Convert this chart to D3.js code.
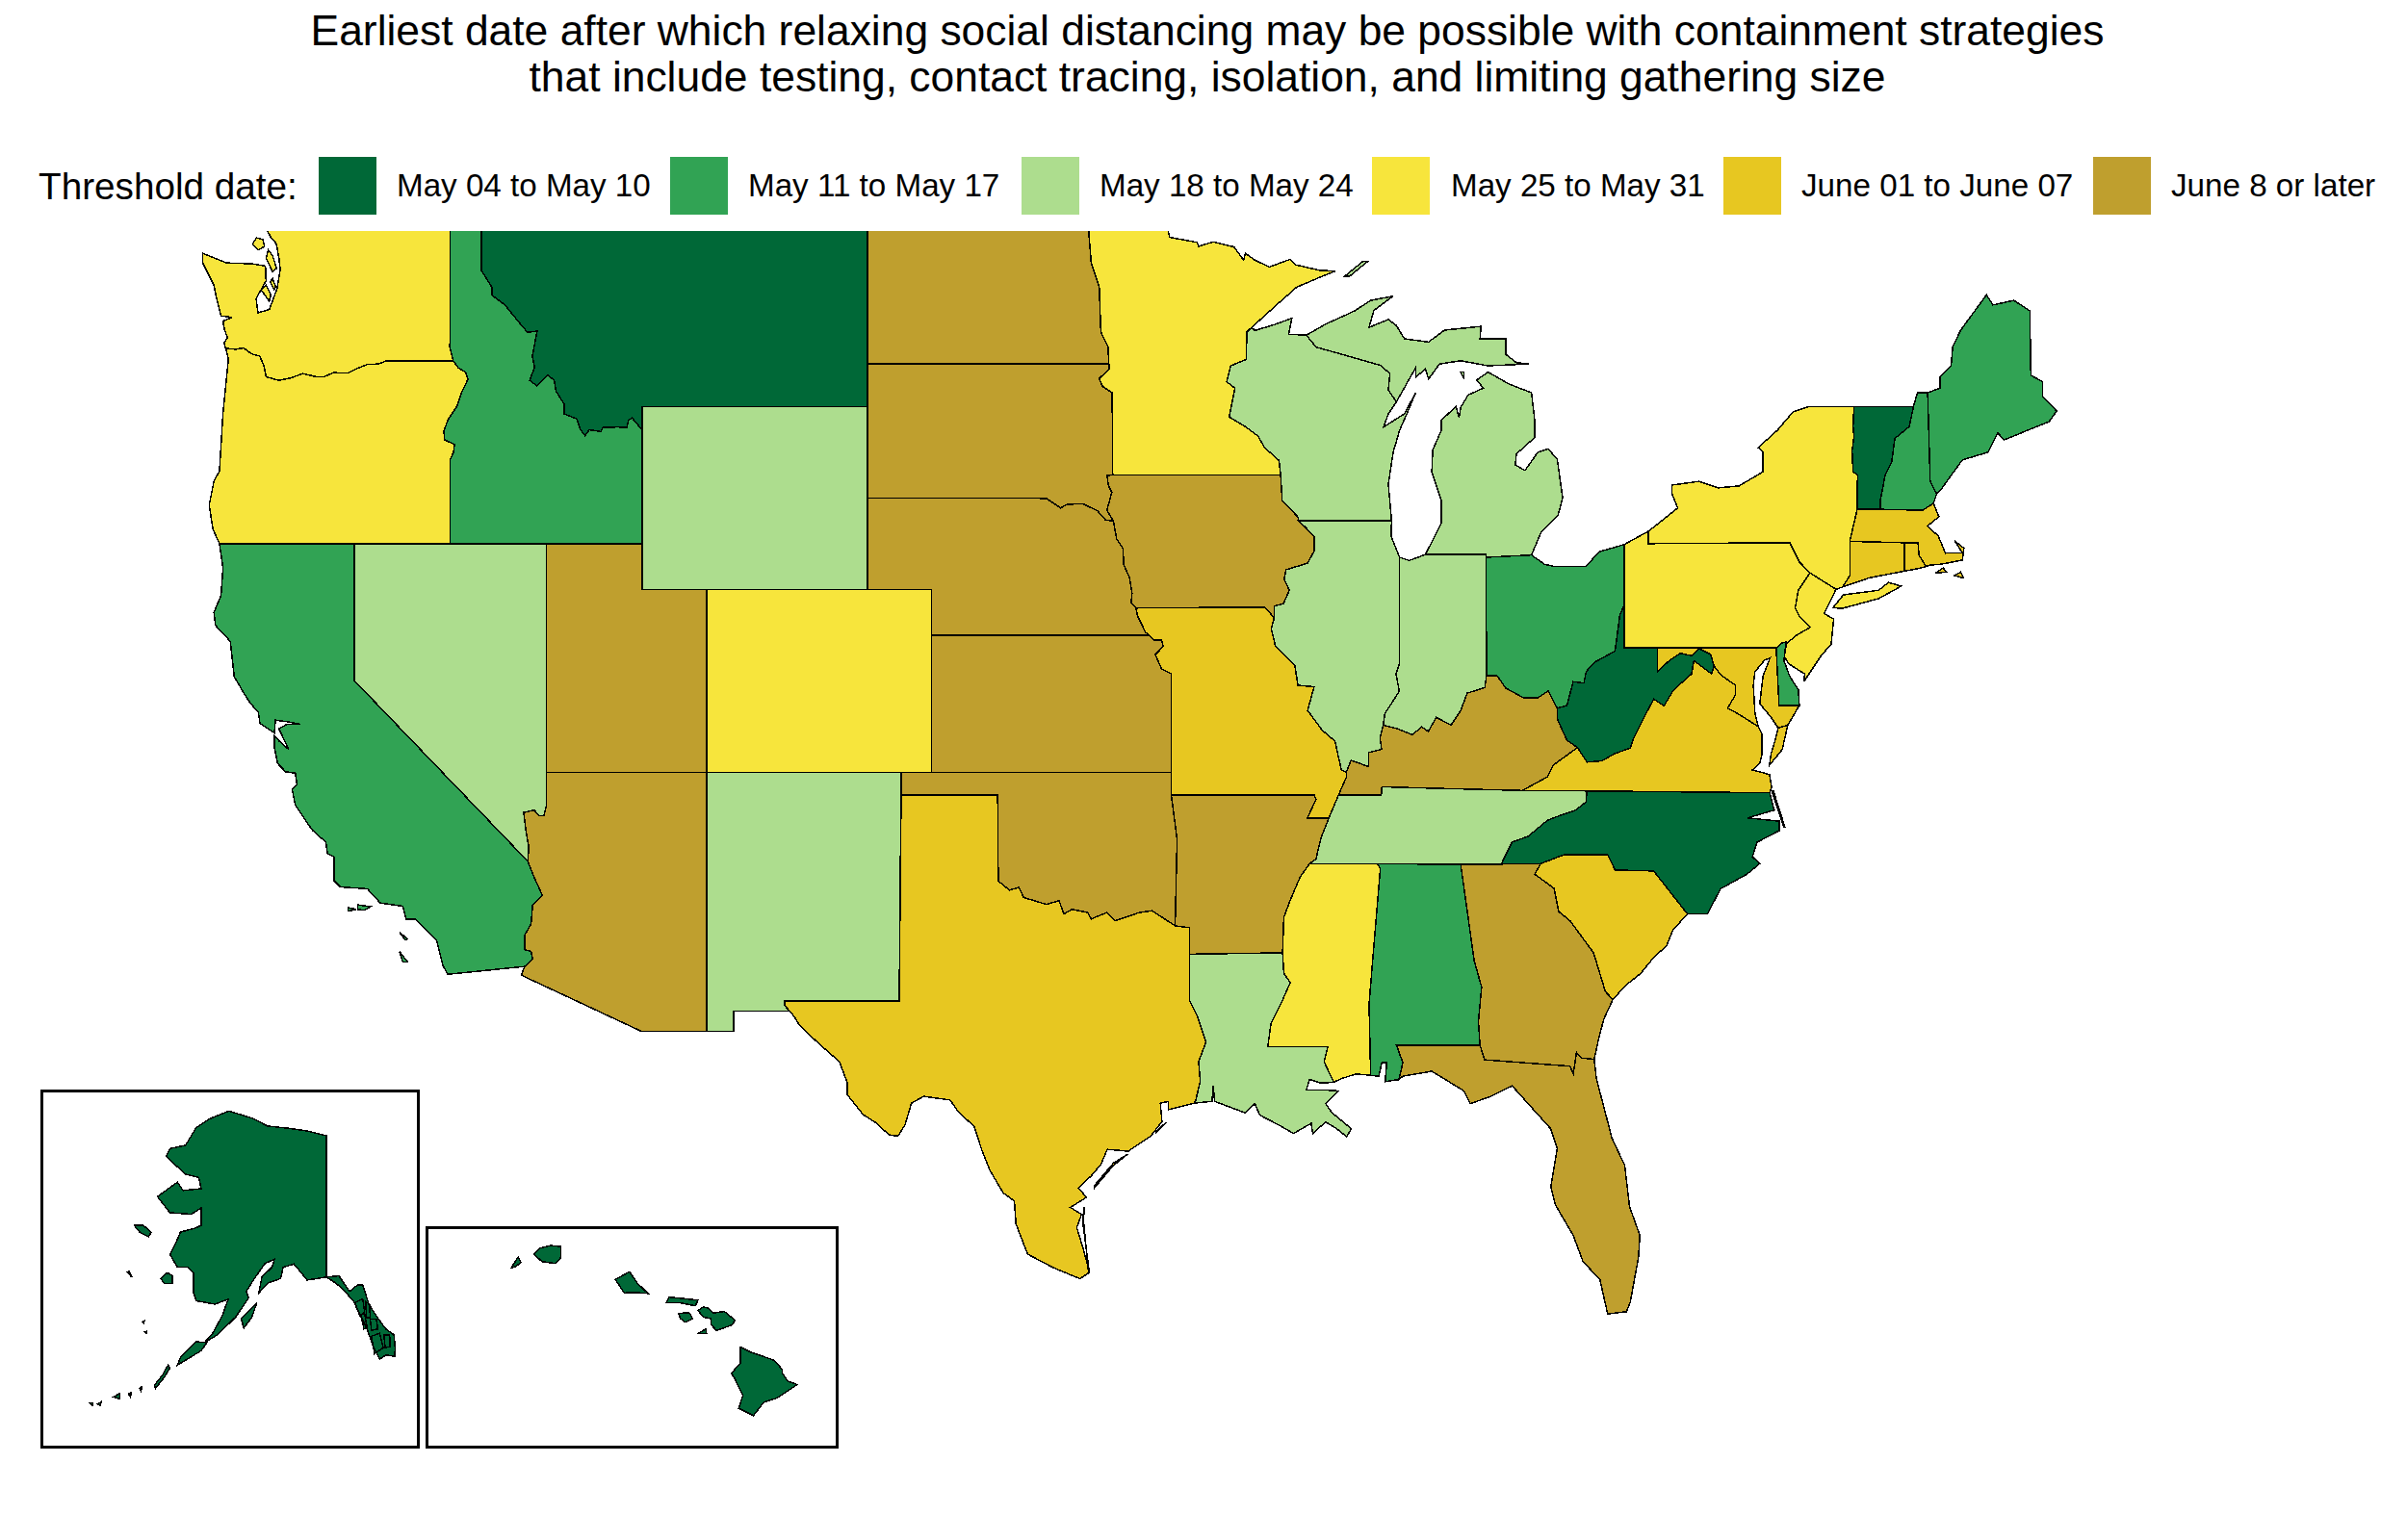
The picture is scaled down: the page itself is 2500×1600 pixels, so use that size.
<!DOCTYPE html>
<html>
<head>
<meta charset="UTF-8">
<title>Earliest date for relaxing social distancing</title>
<script src="https://cdn.jsdelivr.net/npm/d3@7"></script>
<style>
  html, body { margin: 0; background: #fff; }
  text { font-family: "Liberation Sans", Arial, sans-serif; fill: #000; }
  .state { stroke: #000; stroke-width: 1.5; shape-rendering: crispEdges; }
  .frame { fill: none; stroke: #000; stroke-width: 3; shape-rendering: crispEdges; }
</style>
</head>
<body>
<svg id="chart" width="2500" height="1600"></svg>
<script>
var titleLines = [
  "Earliest date after which relaxing social distancing may be possible with containment strategies",
  "that include testing, contact tracing, isolation, and limiting gathering size"
];
var legendTitle = "Threshold date:";
var legendLabels = ["May 04 to May 10", "May 11 to May 17", "May 18 to May 24", "May 25 to May 31", "June 01 to June 07", "June 8 or later"];
var binColors = ["#006837", "#31a354", "#addd8e", "#f7e53c", "#e7c721", "#bf9f2e"];

// which bin each state falls in, same order as legendLabels
var bin0 = ["MT", "VT", "WV", "NC", "AK", "HI"];
var bin1 = ["ID", "CA", "OH", "ME", "NH", "AL", "DE"];
var bin2 = ["WY", "NV", "NM", "IL", "IN", "MI", "WI", "TN", "LA"];
var bin3 = ["WA", "OR", "CO", "MN", "NY", "PA", "NJ", "MS"];
var bin4 = ["MO", "TX", "VA", "MD", "SC", "MA", "CT", "RI"];
var bin5 = ["UT", "AZ", "ND", "SD", "NE", "KS", "OK", "IA", "AR", "KY", "GA", "FL"];

// shared borders, [lon, lat]
var columbia = [[-124.0,46.27],[-123.7,46.25],[-123.45,46.28],[-123.2,46.15],[-122.95,46.1],[-122.82,45.9],[-122.75,45.65],[-122.35,45.57],[-122.0,45.62],[-121.6,45.72],[-121.2,45.65],[-120.95,45.65],[-120.65,45.74],[-120.2,45.73],[-119.95,45.82],[-119.6,45.92],[-119.25,45.93],[-119.0,46.0],[-116.93,46.0]];
var orId = [[-116.93,46.0],[-116.78,45.85],[-116.55,45.75],[-116.47,45.6],[-116.67,45.3],[-116.81,45.01],[-117.1,44.7],[-117.22,44.46],[-117.2,44.27],[-116.89,44.17],[-116.92,44.0],[-117.02,43.84],[-117.03,42.0]];
var idMt = [[-116.05,49.0],[-116.05,47.97],[-115.72,47.6],[-115.72,47.43],[-115.32,47.22],[-114.92,46.87],[-114.62,46.62],[-114.32,46.65],[-114.47,46.1],[-114.4,45.86],[-114.55,45.57],[-114.33,45.45],[-113.99,45.69],[-113.79,45.57],[-113.73,45.33],[-113.48,45.05],[-113.48,44.84],[-113.09,44.73],[-112.97,44.49],[-112.83,44.36],[-112.7,44.49],[-112.34,44.45],[-112.28,44.54],[-111.83,44.55],[-111.53,44.54],[-111.48,44.7],[-111.37,44.75],[-111.05,44.48]];
var colorado = [[-114.71,32.75],[-114.46,32.91],[-114.51,33.08],[-114.71,33.12],[-114.71,33.43],[-114.51,33.68],[-114.46,34.1],[-114.16,34.31],[-114.41,34.7],[-114.61,35.05]];
var azNv = [[-114.61,35.05],[-114.58,35.36],[-114.66,35.68],[-114.74,36.12],[-114.41,36.17],[-114.26,36.05],[-114.11,36.05],[-114.04,36.24],[-114.04,37.0]];
var rioGrande = [[-106.62,32.0],[-106.62,31.9],[-106.32,31.65],[-106.17,31.47],[-105.57,31.07],[-104.92,30.67],[-104.67,30.2],[-104.67,29.94],[-104.18,29.51],[-103.78,29.33],[-103.38,29.07],[-103.1,29.04],[-102.88,29.29],[-102.68,29.76],[-102.3,29.91],[-101.48,29.83],[-101.23,29.58],[-100.73,29.25],[-100.48,28.71],[-100.23,28.28],[-99.83,27.8],[-99.48,27.62],[-99.43,27.12],[-99.07,26.46],[-98.29,26.17],[-97.44,25.92],[-97.14,26.06]];
var sabine = [[-93.85,29.8],[-93.7,30.23],[-93.75,30.67],[-93.52,31.1],[-93.8,31.68],[-94.03,32.0],[-94.03,33.02]];
var redRiver = [[-94.03,33.6],[-94.48,33.64],[-95.2,33.97],[-95.6,33.93],[-96.34,33.75],[-96.6,33.93],[-97.09,33.79],[-97.2,33.93],[-97.69,34.0],[-97.94,33.9],[-98.09,34.19],[-98.49,34.11],[-99.19,34.26],[-99.34,34.48],[-99.63,34.42],[-99.98,34.62]];
var redNorth = [[-97.23,49.0],[-97.17,48.84],[-97.09,48.14],[-96.84,47.61],[-96.79,46.63],[-96.57,46.31],[-96.54,45.93]];
var sdMn = [[-96.54,45.93],[-96.54,45.82],[-96.84,45.61],[-96.74,45.44],[-96.44,45.3],[-96.42,43.5]];
var sdIa = [[-96.42,43.5],[-96.6,43.49],[-96.55,43.26],[-96.45,43.12],[-96.6,42.73],[-96.4,42.49]];
var sdNe = [[-96.4,42.49],[-96.65,42.52],[-96.9,42.72],[-97.35,42.87],[-97.84,42.86],[-98.04,42.78],[-98.49,42.99],[-104.05,43.0]];
var neIa = [[-96.4,42.49],[-96.3,42.1],[-96.1,41.89],[-96.08,41.54],[-95.9,41.26],[-95.82,40.91],[-95.85,40.7],[-95.7,40.59]];
var neMo = [[-95.7,40.59],[-95.65,40.42],[-95.4,40.06],[-95.3,40.0]];
var ksMo = [[-95.3,40.0],[-95.15,39.89],[-94.9,39.89],[-94.85,39.75],[-95.1,39.57],[-94.9,39.26],[-94.6,39.15],[-94.6,37.0]];
var iaMo = [[-95.7,40.59],[-92.15,40.61],[-91.7,40.61],[-91.4,40.38]];
var wiMn = [[-92.1,46.73],[-92.25,46.63],[-92.27,46.03],[-92.75,45.89],[-92.88,45.54],[-92.62,45.4],[-92.8,44.77],[-92.3,44.56],[-91.9,44.35],[-91.7,44.1],[-91.25,43.82],[-91.2,43.5]];
var wiIa = [[-91.2,43.5],[-91.15,42.94],[-90.66,42.58],[-90.64,42.5]];
var ilIa = [[-90.64,42.5],[-90.42,42.35],[-90.16,42.16],[-90.16,41.83],[-90.37,41.57],[-91.03,41.43],[-91.09,41.22],[-90.93,40.98],[-91.11,40.69],[-91.4,40.63],[-91.4,40.38]];
var ilMo = [[-91.4,40.38],[-91.49,40.13],[-91.36,39.75],[-90.76,39.33],[-90.66,38.9],[-90.16,38.87],[-90.36,38.35],[-89.91,37.92],[-89.51,37.68],[-89.41,37.36],[-89.31,37.05],[-89.16,37.0]];
var kyMo = [[-89.16,37.0],[-89.15,36.9],[-89.4,36.5]];
var tnMo = [[-89.4,36.5],[-89.55,36.25],[-89.7,36.0]];
var tnAr = [[-89.7,36.0],[-89.95,35.55],[-90.1,35.1],[-90.3,35.0]];
var msAr = [[-90.3,35.0],[-90.6,34.7],[-90.9,34.2],[-91.1,33.83],[-91.14,33.05]];
var msLa = [[-91.14,33.05],[-91.1,32.6],[-90.9,32.4],[-91.15,32.0],[-91.5,31.5],[-91.6,31.0]];
var msLaEast = [[-91.6,31.0],[-89.73,31.0],[-89.85,30.67],[-89.55,30.22]];
var ohWv = [[-80.52,40.64],[-80.65,40.45],[-80.8,39.65],[-81.45,39.4],[-81.7,39.2],[-81.77,38.95],[-82.1,38.98],[-82.3,38.46],[-82.6,38.4]];
var wvKy = [[-82.6,38.4],[-82.6,38.17],[-82.3,37.7],[-81.97,37.54]];
var ohKy = [[-82.6,38.4],[-82.88,38.78],[-83.2,38.63],[-83.65,38.63],[-84.2,38.84],[-84.47,39.11],[-84.8,39.11]];
var inKy = [[-84.8,39.11],[-84.85,38.85],[-85.4,38.73],[-85.6,38.35],[-85.9,38.03],[-86.36,38.2],[-86.61,37.89],[-86.81,37.99],[-87.11,37.82],[-87.61,37.96],[-88.01,38.03]];
var ilKy = [[-88.01,38.03],[-88.11,37.75],[-88.06,37.5],[-88.46,37.43],[-88.46,37.12],[-89.01,37.26],[-89.16,37.0]];
var wabash = [[-87.51,39.36],[-87.61,39.15],[-87.51,38.77],[-87.96,38.28],[-88.01,38.03]];
var vaKy = [[-81.97,37.54],[-82.73,37.15],[-82.9,36.9],[-83.68,36.6]];
var kyTn = [[-83.68,36.6],[-86.5,36.65],[-88.05,36.68],[-88.07,36.5],[-89.4,36.5]];
var tnVa = [[-81.68,36.59],[-83.68,36.6]];
var ncTn = [[-81.68,36.59],[-81.7,36.35],[-82.03,36.17],[-82.6,36.03],[-82.9,35.95],[-83.5,35.6],[-84.0,35.47],[-84.3,35.05],[-84.32,35.0]];
var ncSc = [[-83.11,35.0],[-82.37,35.2],[-81.03,35.2],[-80.8,34.86],[-79.6,34.84],[-78.55,33.9]];
var gaSc = [[-83.11,35.0],[-83.3,34.77],[-82.7,34.46],[-82.55,33.95],[-82.2,33.75],[-81.47,33.05],[-81.1,32.2],[-80.87,32.03]];
var alGa = [[-85.6,34.98],[-85.18,32.87],[-84.95,32.3],[-85.05,31.55],[-85.0,31.03]];
var alMs = [[-88.2,35.0],[-88.1,34.9],[-88.45,31.93],[-88.4,30.37]];
var wvMd = [[-79.48,39.2],[-79.1,39.45],[-78.77,39.6],[-78.42,39.55],[-78.18,39.7],[-77.83,39.58],[-77.72,39.32]];
var wvVa = [[-77.72,39.32],[-77.8,39.15],[-78.35,39.44],[-78.42,39.15],[-78.98,38.8],[-79.28,38.45],[-79.6,38.6],[-79.92,38.17],[-80.22,37.75],[-80.33,37.53],[-80.83,37.4],[-81.2,37.25],[-81.67,37.22],[-81.97,37.54]];
var potomac = [[-77.72,39.32],[-77.5,39.12],[-77.05,38.9],[-77.05,38.7],[-77.3,38.4],[-76.98,38.28],[-76.35,38.0]];
var nyPa = [[-79.76,42.27],[-79.76,42.0],[-75.37,42.02],[-75.07,41.6],[-74.74,41.36]];
var paNj = [[-74.74,41.36],[-75.1,40.98],[-75.2,40.59],[-75.08,40.42],[-74.73,40.17],[-75.15,40.0],[-75.46,39.82]];
var nyCt = [[-73.73,41.05],[-73.5,41.3],[-73.5,42.05]];
var nyVt = [[-73.27,42.75],[-73.26,43.5],[-73.4,43.57],[-73.43,44.03],[-73.37,44.35],[-73.4,44.56],[-73.37,45.0]];
var vtNh = [[-71.52,45.0],[-71.65,44.56],[-72.1,44.3],[-72.2,43.78],[-72.4,43.5],[-72.55,42.95],[-72.55,42.75]];
var nhMe = [[-71.08,45.3],[-71.0,43.36],[-70.8,43.09]];

// whole state outlines, built from the borders above
var rev = function (a) { return a.slice().reverse(); };
var ring = function () { return Array.prototype.concat.apply([], arguments); };

var stateShapes = {
  WA: [ring([[-117.03,49.0],[-117.03,46.42],[-117.04,46.3]], rev(columbia),
        [[-124.03,46.31],[-124.05,46.4],[-123.95,46.5],[-124.05,46.7],[-124.09,46.87],[-123.8,46.95],[-124.15,46.98],[-124.3,47.4],[-124.37,47.65],[-124.72,48.14],[-124.72,48.35],[-123.97,48.14],[-123.17,48.12],[-122.77,48.07],[-122.75,47.75],[-123.06,47.36],[-123.0,47.05],[-122.65,47.12],[-122.55,47.3],[-122.4,47.6],[-122.31,48.0],[-122.35,48.25],[-122.43,48.56],[-122.6,48.7],[-122.71,48.84],[-122.76,49.0]]),
      [[-123.17,48.55],[-123.0,48.42],[-122.8,48.5],[-122.85,48.65],[-123.05,48.69]],
      [[-122.75,48.25],[-122.55,47.95],[-122.42,48.02],[-122.55,48.3],[-122.68,48.42]],
      [[-122.62,47.72],[-122.5,47.55],[-122.45,47.62],[-122.55,47.8]],
      [[-122.9,47.55],[-122.65,47.3],[-122.6,47.45],[-122.75,47.65]]],
  OR: [ring(columbia, orId, [[-124.2,42.0],[-124.4,42.31],[-124.52,42.84],[-124.37,43.37],[-124.2,43.58],[-124.09,44.84],[-123.92,46.03]])],
  CA: [ring([[-120.0,42.0],[-120.0,39.0]], rev(colorado), [[-117.1,32.58],[-117.25,32.77],[-117.45,33.33],[-118.1,33.79],[-118.4,33.79],[-118.5,34.07],[-119.2,34.14],[-119.6,34.45],[-120.44,34.49],[-120.64,34.63],[-120.64,35.15],[-120.84,35.22],[-120.89,35.47],[-121.29,35.72],[-121.44,35.86],[-121.84,36.28],[-121.94,36.63],[-121.79,36.73],[-121.84,36.98],[-122.14,37.01],[-122.39,37.19],[-122.49,37.54],[-122.49,37.79],[-122.34,37.68],[-122.05,37.5],[-122.35,37.95],[-122.1,38.05],[-121.69,38.05],[-122.04,38.1],[-122.46,38.14],[-122.49,37.86],[-122.94,38.07],[-122.99,38.31],[-123.25,38.52],[-123.44,38.73],[-123.74,39.09],[-123.86,39.86],[-124.32,40.21],[-124.37,40.49],[-124.15,40.87],[-124.09,41.47],[-124.2,42.0]]),
      [[-118.6,33.5],[-118.35,33.35],[-118.42,33.33]],[[-119.9,34.1],[-119.5,34.06],[-119.7,33.98],[-119.9,34.0]],[[-120.2,34.04],[-119.95,34.0],[-120.2,33.96]],[[-118.6,33.08],[-118.35,32.85],[-118.5,32.85]]],
  NV: [ring([[-120.0,42.0],[-114.04,42.0]], rev(azNv), [[-120.0,39.0]])],
  ID: [ring([[-117.03,49.0]], idMt, [[-111.05,42.0],[-117.03,42.0]], rev(orId).slice(1), [[-117.04,46.3],[-117.03,46.42]])],
  MT: [ring([[-116.05,49.0],[-104.05,49.0],[-104.05,45.0],[-111.05,45.0]], rev(idMt))],
  WY: [[[-111.05,45.0],[-104.05,45.0],[-104.05,41.0],[-111.05,41.0]]],
  UT: [[[-114.04,42.0],[-111.05,42.0],[-111.05,41.0],[-109.05,41.0],[-109.05,37.0],[-114.04,37.0]]],
  CO: [[[-109.05,41.0],[-102.05,41.0],[-102.05,37.0],[-109.05,37.0]]],
  AZ: [ring([[-109.05,37.0],[-109.05,31.33],[-111.07,31.33],[-114.81,32.56]], colorado, azNv.slice(1))],
  NM: [[[-109.05,37.0],[-103.0,37.0],[-103.06,32.0],[-106.62,32.0],[-106.62,31.9],[-106.5,31.78],[-108.21,31.78],[-108.21,31.33],[-109.05,31.33]]],
  TX: [ring(rioGrande, [[-97.35,26.6],[-97.54,27.04],[-97.39,27.33],[-97.74,27.48],[-97.24,27.7],[-97.49,27.91],[-97.09,28.17],[-96.79,28.42],[-96.59,28.75],[-95.94,28.71],[-95.24,29.04],[-94.89,29.36],[-94.94,29.76],[-94.69,29.8],[-94.69,29.62],[-93.9,29.76]], sabine, redRiver, [[-100.0,36.5],[-103.0,36.5],[-103.06,32.0]]),
       [[-97.15,26.06],[-97.36,27.2],[-97.3,27.5],[-97.33,27.2],[-97.18,26.1]],[[-97.0,27.9],[-96.4,28.4],[-95.95,28.65],[-96.4,28.45],[-97.0,27.95]],[[-95.1,29.1],[-94.75,29.35],[-95.05,29.15]]],
  OK: [ring([[-103.0,37.0],[-94.6,37.0],[-94.6,36.5],[-94.42,35.53]], redRiver.slice(1), [[-100.0,36.5],[-103.0,36.5]])],
  KS: [ring([[-102.05,40.0]], ksMo, [[-102.05,37.0]])],
  NE: [ring([[-104.05,43.0]], rev(sdNe).slice(1), neIa.slice(1), neMo.slice(1), [[-102.05,40.0],[-102.05,41.0],[-104.05,41.0]])],
  SD: [ring([[-104.05,45.93]], sdMn, sdIa.slice(1), sdNe.slice(1))],
  ND: [ring([[-104.05,49.0]], redNorth, [[-104.05,45.93]])],
  MN: [ring(redNorth, sdMn.slice(1), rev(wiMn), [[-91.2,47.3],[-90.7,47.61],[-90.1,47.79],[-89.5,47.96],[-90.0,47.98],[-90.75,48.1],[-90.9,48.22],[-91.55,48.05],[-92.0,48.2],[-92.3,48.35],[-92.35,48.2],[-92.65,48.49],[-93.3,48.6],[-93.75,48.5],[-93.8,48.59],[-94.65,48.7],[-94.7,48.84],[-94.8,49.3],[-95.15,49.38],[-95.15,49.0]])],
  IA: [ring([[-96.42,43.5]], wiIa, ilIa.slice(1), rev(iaMo).slice(1), rev(neIa).slice(1), rev(sdIa).slice(1, -1))],
  MO: [ring(iaMo, ilMo.slice(1), kyMo.slice(1), tnMo.slice(1), [[-90.37,36.0],[-90.1,36.4],[-90.15,36.5],[-94.6,36.5]], rev(ksMo), rev(neMo).slice(1))],
  AR: [ring([[-94.6,36.5],[-90.15,36.5],[-90.1,36.4],[-90.37,36.0]], tnAr, msAr.slice(1), [[-94.03,33.02],[-94.03,33.6],[-94.48,33.64],[-94.42,35.53]])],
  LA: [ring([[-94.03,33.02]], msLa, msLaEast.slice(1), [[-89.95,30.2],[-90.3,30.28],[-90.4,30.05],[-89.85,30.05],[-89.4,30.03],[-89.8,29.75],[-89.6,29.55],[-89.0,29.2],[-89.15,29.03],[-89.45,29.2],[-89.8,29.35],[-90.2,29.1],[-90.25,29.32],[-90.8,29.1],[-91.3,29.3],[-91.85,29.5],[-92.0,29.75],[-92.3,29.55],[-93.25,29.8],[-93.3,30.15],[-93.33,29.8],[-93.9,29.76]], sabine)],
  MS: [ring(msAr, msLa.slice(1), msLaEast.slice(1), [[-89.3,30.3],[-88.85,30.4]], rev(alMs))],
  AL: [ring([[-88.2,35.0],[-85.6,34.98]], alGa.slice(1), [[-87.6,31.03],[-87.4,30.65],[-87.52,30.28],[-87.95,30.23],[-87.9,30.65],[-88.05,30.65],[-88.15,30.35]], rev(alMs).slice(0, -1))],
  TN: [ring(rev(tnAr), [[-89.55,36.25]], rev(kyTn), rev(tnVa).slice(1), ncTn.slice(1))],
  KY: [ring(ohKy, inKy.slice(1), ilKy.slice(1), kyMo.slice(1), rev(kyTn).slice(1), rev(vaKy).slice(1), rev(wvKy).slice(1, -1))],
  IL: [ring([[-90.64,42.5],[-87.75,42.5],[-87.76,42.15],[-87.5,41.7]], wabash, ilKy.slice(1), rev(ilMo).slice(1), rev(ilIa).slice(1, -1))],
  IN: [ring([[-87.5,41.7],[-87.2,41.63],[-86.7,41.76],[-84.81,41.76]], inKy, rev(wabash).slice(1))],
  OH: [ring([[-84.81,41.7],[-83.4,41.75],[-83.0,41.55],[-82.7,41.5],[-81.7,41.5],[-81.3,41.82],[-80.52,41.98]], ohWv, ohKy.slice(1))],
  WI: [ring(rev(wiIa), rev(wiMn).slice(1), [[-92.0,46.66],[-91.35,46.8],[-90.85,46.93],[-90.95,46.58],[-90.4,46.56],[-90.1,46.3],[-88.6,46.0],[-88.1,45.9],[-87.8,45.72],[-87.85,45.36],[-87.6,45.1],[-87.85,44.84],[-88.0,44.55],[-87.35,44.84],[-87.0,45.3],[-87.3,44.8],[-87.5,44.48],[-87.7,44.0],[-87.85,43.3],[-87.75,42.5]])],
  MI: [[[-86.7,41.76],[-84.81,41.76],[-84.81,41.7],[-83.4,41.75],[-83.1,42.25],[-82.57,42.63],[-82.43,43.0],[-82.6,43.85],[-82.88,44.07],[-83.2,44.0],[-83.6,43.6],[-83.9,43.72],[-83.87,43.96],[-83.3,44.32],[-83.3,44.7],[-83.4,45.3],[-84.1,45.49],[-84.75,45.75],[-85.1,45.58],[-84.9,45.4],[-85.37,45.25],[-85.6,44.98],[-85.65,44.75],[-85.75,45.0],[-86.2,44.7],[-86.2,44.48],[-86.47,44.05],[-86.5,43.57],[-86.2,42.94],[-86.2,42.45]],
       [[-90.4,46.56],[-89.8,46.8],[-88.9,47.09],[-88.4,47.32],[-87.71,47.41],[-88.3,47.1],[-88.45,46.73],[-87.85,46.9],[-87.6,46.77],[-87.35,46.48],[-86.6,46.41],[-86.1,46.67],[-84.97,46.75],[-85.0,46.48],[-84.2,46.48],[-84.2,46.14],[-83.87,45.96],[-83.47,45.93],[-84.75,45.89],[-85.6,46.0],[-86.26,45.93],[-86.6,45.6],[-86.7,45.82],[-87.0,45.64],[-87.0,45.85],[-87.6,45.1],[-87.85,45.36],[-87.8,45.72],[-88.1,45.9],[-88.6,46.0],[-90.1,46.3]],
       [[-89.2,47.85],[-88.65,48.17],[-88.5,48.17],[-89.05,47.85]],[[-85.6,45.75],[-85.5,45.6],[-85.5,45.75]]],
  NY: [ring(nyPa, [[-73.93,41.0]], nyCt, nyVt, [[-74.77,45.0],[-75.27,44.88],[-75.75,44.48],[-76.35,44.1],[-76.2,44.0],[-76.2,43.57],[-76.95,43.26],[-77.6,43.22],[-78.2,43.36],[-79.03,43.28],[-79.03,43.09],[-78.85,42.78]]),
       [[-74.02,40.6],[-73.75,40.58],[-72.6,40.8],[-71.9,41.07],[-72.3,41.15],[-72.6,40.98],[-73.7,40.88]]],
  PA: [ring([[-80.52,41.98]], nyPa, paNj.slice(1), [[-75.6,39.83],[-75.79,39.72],[-80.52,39.72]])],
  NJ: [ring(paNj, [[-75.55,39.55],[-75.4,39.37],[-74.9,39.15],[-74.93,38.98],[-74.37,39.57],[-74.08,39.8],[-74.0,40.35],[-74.3,40.47],[-73.93,41.0]])],
  DE: [[[-75.79,39.72],[-75.6,39.83],[-75.48,39.85],[-75.55,39.44],[-75.37,39.1],[-75.1,38.8],[-75.07,38.46],[-75.7,38.46]]],
  MD: [ring([[-79.48,39.72],[-75.79,39.72],[-75.7,38.46],[-75.07,38.46],[-75.43,38.03],[-75.73,37.97],[-75.95,38.2],[-76.3,38.5],[-76.25,38.8],[-76.2,39.1],[-75.98,39.5],[-76.15,39.45],[-76.45,39.2],[-76.5,38.9],[-76.45,38.3]], rev(potomac), rev(wvMd).slice(1))],
  VA: [ring(rev(vaKy), rev(wvVa).slice(1), potomac.slice(1), [[-76.23,37.83],[-76.23,37.4],[-76.3,37.2],[-76.53,37.05],[-76.0,36.95],[-75.93,36.67],[-75.99,36.55]], tnVa),
       [[-75.73,37.97],[-75.43,38.03],[-75.6,37.5],[-76.0,37.15],[-75.95,37.4],[-75.8,37.75]]],
  WV: [ring([[-80.52,40.64],[-80.52,39.72],[-79.48,39.72]], wvMd, wvVa.slice(1), rev(wvKy).slice(1), rev(ohWv).slice(1, -1))],
  NC: [ring([[-81.68,36.59],[-75.99,36.55],[-75.85,36.17],[-76.68,36.0],[-75.7,35.93],[-75.7,35.72],[-76.38,35.47],[-76.53,35.15],[-76.3,35.0],[-76.7,34.77],[-77.52,34.45],[-77.93,33.9]], rev(ncSc), rev(ncTn).slice(0, -1)),
       [[-75.93,36.6],[-75.55,35.8],[-75.52,35.8],[-75.88,36.6]]],
  SC: [ring(ncSc, [[-79.0,33.55],[-79.2,33.2],[-79.6,32.95],[-80.0,32.6],[-80.45,32.35]], rev(gaSc))],
  GA: [ring([[-85.6,34.98]], gaSc, [[-81.15,31.6],[-81.3,31.2],[-81.45,30.72],[-81.85,30.75],[-82.0,30.87],[-82.1,30.4],[-82.2,30.57],[-84.86,30.71]], rev(alGa).slice(0, -1))],
  FL: [[[-87.6,31.03],[-85.0,31.03],[-84.86,30.71],[-82.2,30.57],[-82.1,30.4],[-82.0,30.87],[-81.85,30.75],[-81.45,30.72],[-81.38,30.3],[-80.9,29.0],[-80.5,28.4],[-80.35,27.5],[-80.03,26.87],[-80.07,26.4],[-80.33,25.4],[-80.45,25.2],[-81.03,25.15],[-81.27,25.9],[-81.8,26.3],[-82.1,26.87],[-82.65,27.53],[-82.8,27.93],[-82.6,28.77],[-82.8,29.2],[-83.4,29.67],[-84.0,30.14],[-84.7,29.9],[-85.3,29.75],[-85.5,30.03],[-86.5,30.46],[-87.4,30.35],[-87.52,30.28],[-87.4,30.65]]],
  CT: [ring(nyCt, [[-71.8,42.02],[-71.8,41.4],[-72.9,41.25]])],
  RI: [[[-71.8,42.02],[-71.38,42.02],[-71.35,41.75],[-71.13,41.5],[-71.4,41.45],[-71.8,41.4]]],
  MA: [[[-73.5,42.05],[-73.27,42.75],[-72.55,42.75],[-71.24,42.73],[-70.9,42.88],[-70.73,42.59],[-71.09,42.38],[-70.75,42.17],[-70.53,41.79],[-70.0,41.8],[-70.24,42.06],[-69.95,41.9],[-70.0,41.64],[-70.66,41.55],[-71.0,41.53],[-71.13,41.5],[-71.35,41.75],[-71.38,42.02],[-71.8,42.02]],
       [[-70.85,41.35],[-70.5,41.38],[-70.6,41.47]],[[-70.25,41.3],[-69.97,41.25],[-70.05,41.38]]],
  VT: [ring(rev(nyVt), rev(vtNh))],
  NH: [ring(rev(vtNh), [[-71.4,45.3]], nhMe, [[-70.9,42.88],[-71.24,42.73]])],
  ME: [ring(nhMe, [[-70.7,43.15],[-70.3,43.54],[-70.0,43.83],[-69.2,44.0],[-68.9,44.42],[-68.7,44.27],[-67.3,44.67],[-67.07,44.9],[-67.5,45.22],[-67.5,45.54],[-67.87,45.68],[-67.9,47.09],[-68.4,47.32],[-69.05,47.22],[-69.25,47.44],[-70.05,46.67],[-70.3,46.31],[-70.35,45.89],[-70.7,45.64],[-70.7,45.4]])],
  AK: [[[-141.0,69.69],[-144.1,70.02],[-147.0,70.2],[-150.4,70.36],[-152.9,70.91],[-156.6,71.4],[-159.7,70.85],[-161.8,70.25],[-163.5,69.02],[-166.0,68.8],[-166.6,68.25],[-163.5,67.02],[-161.4,66.8],[-161.0,66.02],[-163.9,65.9],[-164.8,66.47],[-168.0,65.47],[-166.0,64.36],[-162.6,64.25],[-161.0,64.69],[-161.0,63.47],[-162.2,63.25],[-164.3,63.02],[-165.2,62.13],[-166.0,61.47],[-164.8,60.58],[-163.1,60.58],[-162.2,60.14],[-162.2,58.8],[-161.8,58.25],[-158.8,58.02],[-156.7,58.36],[-157.6,57.25],[-159.3,55.9],[-160.5,55.36],[-158.4,55.9],[-155.5,57.13],[-153.4,58.47],[-153.8,58.9],[-152.5,59.8],[-150.8,60.85],[-149.3,61.13],[-149.7,60.58],[-151.3,59.9],[-151.8,58.8],[-150.4,59.47],[-148.3,59.8],[-147.9,60.58],[-146.2,60.8],[-144.9,60.14],[-144.1,59.69],[-141.0,59.9]],
       [[-141.0,59.9],[-139.0,59.98],[-137.3,58.9],[-136.0,59.36],[-135.2,59.36],[-134.2,58.0],[-132.7,57.0],[-131.5,56.3],[-130.2,55.9],[-130.0,54.9],[-130.1,54.4],[-131.5,54.5],[-132.5,54.2],[-133.6,55.2],[-134.5,56.3],[-135.5,57.2],[-136.5,58.13],[-138.0,58.9],[-139.4,59.45]],
       [[-136.5,58.1],[-135.2,58.4],[-134.9,57.5],[-135.6,57.2]],[[-135.5,57.3],[-134.9,57.4],[-134.5,56.4],[-135.0,56.3]],[[-134.7,58.2],[-134.1,58.0],[-134.0,57.1],[-134.6,57.1]],[[-134.0,57.0],[-133.0,57.0],[-132.8,56.3],[-133.8,56.2]],[[-133.8,55.8],[-132.5,56.0],[-131.9,55.0],[-133.3,54.6]],[[-131.8,55.9],[-130.9,55.9],[-130.8,55.1],[-131.6,55.0]],
       [[-152.1,58.13],[-152.9,57.13],[-154.2,56.36],[-154.6,57.0],[-153.8,57.36]],
       [[-171.7,63.47],[-170.3,63.5],[-169.0,63.0],[-169.4,62.7],[-170.8,63.0]],[[-167.5,59.8],[-166.4,60.2],[-165.6,60.0],[-165.6,59.47],[-166.9,59.47]],[[-172.9,60.25],[-172.5,60.3],[-172.1,59.9]],[[-170.4,56.8],[-170.1,56.85],[-170.2,56.7]],[[-170.0,56.1],[-169.7,56.15],[-169.8,56.0]],
       [[-161.8,55.42],[-160.1,55.36],[-161.0,54.8],[-163.1,54.25],[-164.8,53.8],[-164.3,54.36]],[[-166.0,53.6],[-166.3,53.8],[-167.2,53.1],[-168.5,52.4],[-168.3,52.2],[-167.0,52.9]],[[-170.9,52.2],[-170.5,52.3],[-170.6,52.0]],[[-172.6,51.8],[-172.2,51.9],[-172.3,51.6]],[[-175.0,51.6],[-174.0,51.85],[-174.0,51.45]],[[-177.6,51.1],[-177.0,51.25],[-177.1,51.0]],[[-178.8,51.2],[-178.3,51.2],[-178.4,51.0]]],
  HI: [[[-155.89,20.24],[-155.69,20.14],[-155.24,19.98],[-155.09,19.8],[-155.09,19.73],[-154.99,19.58],[-154.81,19.51],[-155.19,19.25],[-155.44,19.17],[-155.64,18.91],[-155.92,19.05],[-155.84,19.3],[-156.0,19.64],[-156.06,19.73],[-155.89,19.92]],
       [[-156.69,20.95],[-156.59,21.02],[-156.49,20.99],[-156.41,20.9],[-156.19,20.93],[-155.99,20.76],[-156.04,20.67],[-156.34,20.56],[-156.44,20.67],[-156.44,20.79],[-156.59,20.82]],
       [[-157.29,21.1],[-157.24,21.21],[-156.69,21.15],[-156.74,21.04],[-157.04,21.1]],[[-157.06,20.89],[-156.86,20.91],[-156.79,20.79],[-156.93,20.72],[-157.02,20.79]],[[-156.69,20.5],[-156.54,20.59],[-156.53,20.5]],
       [[-158.26,21.55],[-157.99,21.7],[-157.84,21.48],[-157.64,21.28],[-157.89,21.3],[-158.09,21.29],[-158.19,21.45]],[[-159.8,22.04],[-159.69,22.16],[-159.49,22.21],[-159.29,22.19],[-159.29,21.98],[-159.39,21.86],[-159.65,21.9]],[[-160.23,21.78],[-160.1,21.99],[-160.05,21.88],[-160.15,21.8]]]
};

var svg = d3.select("#chart");

// title
svg.selectAll(".title").data(titleLines).enter().append("text")
  .attr("class", "title")
  .attr("x", 1254)
  .attr("y", function (d, i) { return 47 + i * 48; })
  .attr("text-anchor", "middle")
  .style("font-size", "44.4px")
  .text(function (d) { return d; });

// legend
var swatchX = [331, 696, 1061, 1425, 1790, 2174];
var labelX = [412, 777, 1142, 1507, 1871, 2255];
svg.append("text").attr("x", 40).attr("y", 206.7).style("font-size", "38.7px").text(legendTitle);
legendLabels.forEach(function (label, i) {
  svg.append("rect").attr("x", swatchX[i]).attr("y", 163).attr("width", 60).attr("height", 60).attr("fill", binColors[i]);
  svg.append("text").attr("x", labelX[i]).attr("y", 204).style("font-size", "33.2px").text(label);
});

var colorOf = {};
[bin0, bin1, bin2, bin3, bin4, bin5].forEach(function (bin, i) {
  bin.forEach(function (s) { colorOf[s] = binColors[i]; });
});

var toFeature = function (s) {
  return { type: "Feature", id: s, geometry: { type: "MultiPolygon", coordinates: stateShapes[s].map(function (r) { return [r.concat([r[0]])]; }) } };
};

// the map is plain lon/lat stretched on both axes, so linear scales do the job
var makePath = function (lon, lat) {
  return d3.geoPath(d3.geoTransform({
    point: function (x, y) { this.stream.point(lon(x), lat(y)); }
  }));
};

var lonMain = d3.scaleLinear().domain([-117.03, -67]).range([467.4, 2138.4]);
var latMain = d3.scaleLinear().domain([41, 25]).range([612.3, 1372.3]);
var lonAk = d3.scaleLinear().domain([-141, -130]).range([339, 410.5]);
var latAk = d3.scaleLinear().domain([71.4, 51.4]).range([1154.3, 1454.3]);
var lonHi = d3.scaleLinear().domain([-160.25, -154.81]).range([530, 828]);
var latHi = d3.scaleLinear().domain([22.23, 18.91]).range([1293, 1470.7]);

svg.append("clipPath").attr("id", "mapClip").append("rect")
  .attr("x", 0).attr("y", 240).attr("width", 2500).attr("height", 1360);

var mainStates = Object.keys(stateShapes).filter(function (s) { return s !== "AK" && s !== "HI"; });

svg.append("g").attr("clip-path", "url(#mapClip)")
  .selectAll("path").data(mainStates.map(toFeature)).enter().append("path")
  .attr("class", "state")
  .attr("d", makePath(lonMain, latMain))
  .attr("fill", function (d) { return colorOf[d.id]; });

// inset frames
svg.append("rect").attr("class", "frame").attr("x", 43).attr("y", 1133).attr("width", 391).attr("height", 370);
svg.append("rect").attr("class", "frame").attr("x", 443).attr("y", 1275).attr("width", 426).attr("height", 228);

svg.append("path").datum(toFeature("AK")).attr("class", "state").attr("d", makePath(lonAk, latAk)).attr("fill", colorOf.AK);
svg.append("path").datum(toFeature("HI")).attr("class", "state").attr("d", makePath(lonHi, latHi)).attr("fill", colorOf.HI);
</script>
</body>
</html>
